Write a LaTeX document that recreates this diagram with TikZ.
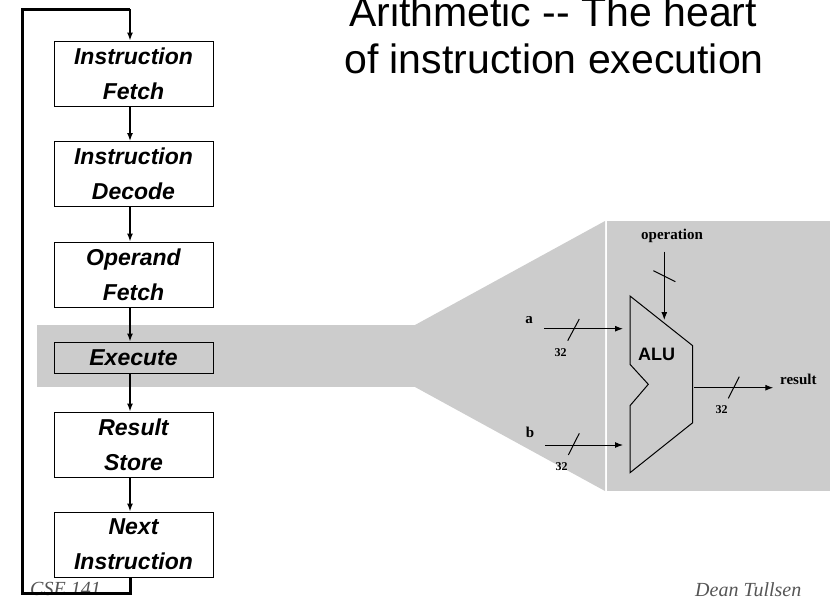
\documentclass[tikz,border=0pt]{standalone}
\usepackage{fontspec}
\setmainfont{Liberation Serif}
\setsansfont{Liberation Sans}
\usetikzlibrary{arrows.meta}
\definecolor{panel}{HTML}{CCCCCC}
\definecolor{footgray}{HTML}{555555}

\begin{document}
\begin{tikzpicture}[x=1pt,y=-1pt,
  stage/.style={draw=black, line width=1pt, fill=white, minimum width=159pt,
    minimum height=65pt, inner sep=0pt, align=center,
    font=\sffamily\bfseries\itshape\fontsize{23}{35}\selectfont},
  flow/.style={line width=1.4pt, -{Latex[length=8pt,width=6pt]}},
  loopline/.style={line width=3pt},
  bus/.style={line width=1pt, -{Latex[length=8pt,width=6pt]}},
  tick/.style={line width=1pt},
  sig/.style={font=\rmfamily\bfseries\fontsize{15}{17}\selectfont, anchor=base, inner sep=0pt},
  buswidth/.style={font=\rmfamily\bfseries\fontsize{12}{14}\selectfont, anchor=base, inner sep=0pt},
  foot/.style={font=\rmfamily\itshape\fontsize{20}{24}\selectfont, text=footgray,
    anchor=base west, inner sep=0pt},
  headline/.style={font=\sffamily\fontsize{41}{47}\selectfont, anchor=base, inner sep=0pt}
]
\useasboundingbox (0,0) rectangle (830,600);

% zoom band from the Execute stage to the ALU panel
\fill[panel] (37,325) rectangle (415,387);
\fill[panel] (415,325) -- (605,221) -- (605,491) -- (415,387) -- cycle;
\fill[panel] (607,221) rectangle (830,491);

% heading
\node[headline] (title1) at (553,26) {Arithmetic -\kern0pt- The heart};
\node[headline] (title2) at (554,73) {of instruction execution};

% footer
\node[foot] (course) at (30,595) {CSE 141};
\node[foot] (author) at (695,596) {Dean Tullsen};

% instruction cycle stages
\node[stage] (fetch)   at (133.5,73.5)  {Instruction\\Fetch};
\node[stage] (decode)  at (133.5,174)   {Instruction\\Decode};
\node[stage] (operand) at (133.5,274.5) {Operand\\Fetch};
\node[stage, fill=panel, minimum height=31pt] (execute) at (133.5,357.5) {Execute};
\node[stage] (store)   at (133.5,444.5) {Result\\Store};
\node[stage] (next)    at (133.5,544.5) {Next\\Instruction};

\draw[flow] ([xshift=-3.5pt]fetch.south)   -- ([xshift=-3.5pt]decode.north);
\draw[flow] ([xshift=-3.5pt]decode.south)  -- ([xshift=-3.5pt]operand.north);
\draw[flow] ([xshift=-3.5pt]operand.south) -- ([xshift=-3.5pt]execute.north);
\draw[flow] ([xshift=-3.5pt]execute.south) -- ([xshift=-3.5pt]store.north);
\draw[flow] ([xshift=-3.5pt]store.south)   -- ([xshift=-3.5pt]next.north);

% return path back to the fetch stage
\coordinate (loopBL) at (22,593);
\coordinate (loopTL) at (22,9);
\coordinate (loopTR) at (130,9);
\draw[loopline] ([xshift=-3.5pt]next.south) |- (loopBL) -- (loopTL) -- (loopTR);
\draw[flow] (loopTR) -- ([xshift=-3.5pt]fetch.north);

% ALU symbol
\draw[line width=1pt] (630,296) -- (692.7,345.7) -- (692.7,422.7) -- (630,472.7)
  -- (630,405.7) -- (648.3,384.3) -- (630,364.3) -- cycle;
\node[font=\sffamily\bfseries\fontsize{18}{20}\selectfont, anchor=base] (alu) at (656.7,360.7) {ALU};

% ports
\coordinate (aSrc) at (544,328.7);   \coordinate (aIn) at (623,328.7);
\coordinate (bSrc) at (545.3,445);   \coordinate (bIn) at (623,445);
\coordinate (opSrc) at (664.3,251.7); \coordinate (opIn) at (664.3,320);
\coordinate (resOut) at (694,387.7); \coordinate (resDst) at (773.3,387.7);

\draw[bus] (aSrc) -- (aIn);
\draw[tick] (567.7,340.7) -- (579.3,319);
\draw[bus] (bSrc) -- (bIn);
\draw[tick] (568.3,455) -- (579.3,433.3);
\draw[bus] (opSrc) -- (opIn);
\draw[tick] (653.3,270.7) -- (675.3,281.7);
\draw[bus] (resOut) -- (resDst);
\draw[tick] (728.3,398.3) -- (739.3,376.7);

% port labels
\node[sig] (lblA) at (529,323) {a};
\node[buswidth] (wA) at (560.7,356.7) {32};
\node[sig] (lblB) at (530,437.7) {b};
\node[buswidth] (wB) at (561.7,470) {32};
\node[sig] (lblOp) at (672,239) {operation};
\node[sig] (lblRes) at (798.3,384) {result};
\node[buswidth] (wRes) at (721.7,413.3) {32};
\end{tikzpicture}
\end{document}
